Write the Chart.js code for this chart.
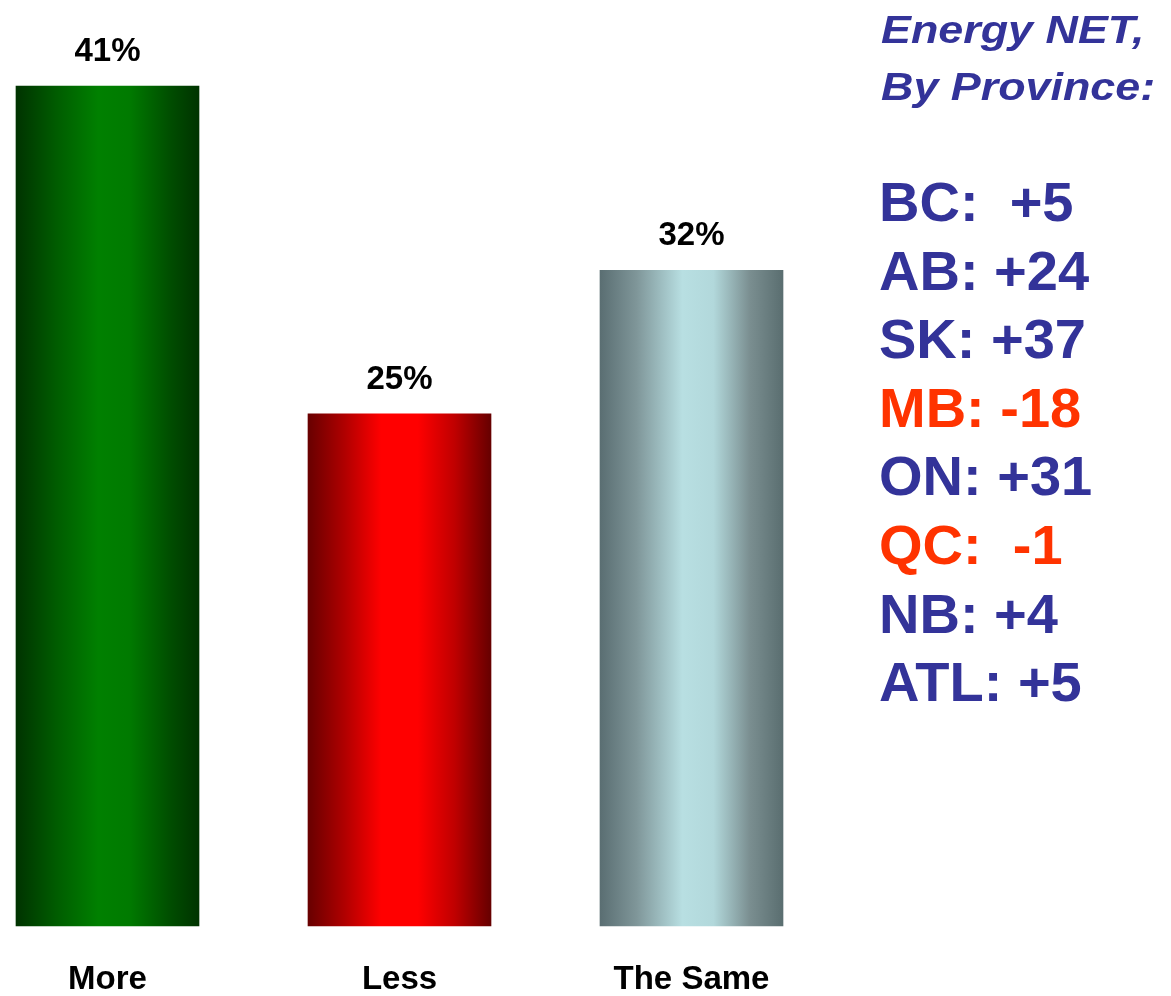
<!DOCTYPE html>
<html>
<head>
<meta charset="utf-8">
<script src="https://cdn.jsdelivr.net/npm/chart.js@4.4.0/dist/chart.umd.min.js"></script>
<style>
  html, body { margin: 0; padding: 0; background: #ffffff; }
  #wrap { position: relative; width: 1171px; height: 996px; }
</style>
</head>
<body>
<div id="wrap"><canvas id="c" width="1171" height="996"></canvas></div>
<script>
// ---- data ----
const categories = ["More", "Less", "The Same"];
const values = [41, 25, 32];
const headingLines = ["Energy NET,", "By Province:"];
const provinces = ["BC:", "AB:", "SK:", "MB:", "ON:", "QC:", "NB:", "ATL:"];
const provinceNet = ["  +5", " +24", " +37", " -18", " +31", "  -1", " +4", " +5"];

// ---- styles ----
const gradStops = [
  [["#003300", 0], ["#005c00", 0.22], ["#008000", 0.45], ["#007a00", 0.62], ["#004c00", 0.85], ["#003300", 1]],
  [["#680000", 0], ["#b00000", 0.2], ["#ff0000", 0.4], ["#ff0000", 0.6], ["#c00000", 0.8], ["#660000", 1]],
  [["#5a6e72", 0], ["#7f9699", 0.2], ["#b8dfe2", 0.45], ["#b2d8db", 0.62], ["#7a8e90", 0.82], ["#5a6e70", 1]]
];
const BAR_W = 183;
const FONT = "'Liberation Sans', Arial, Helvetica, sans-serif";
const BLUE = "#333399";
const RED = "#ff3300";

function barGradient(ctx) {
  const chart = ctx.chart;
  const i = ctx.dataIndex;
  if (!chart.chartArea || i === undefined) return gradStops[i || 0][2][0];
  const cx = chart.scales.x.getPixelForValue(i);
  const g = chart.ctx.createLinearGradient(cx - BAR_W / 2, 0, cx + BAR_W / 2, 0);
  gradStops[i].forEach(s => g.addColorStop(s[1], s[0]));
  return g;
}

const labelPlugin = {
  id: 'valueLabels',
  afterDatasetsDraw(chart) {
    const ctx = chart.ctx;
    const meta = chart.getDatasetMeta(0);
    ctx.save();
    ctx.fillStyle = "#000000";
    ctx.font = "bold 33px " + FONT;
    ctx.textAlign = "center";
    ctx.textBaseline = "alphabetic";
    meta.data.forEach((bar, i) => {
      ctx.fillText(values[i] + "%", bar.x, bar.y - 25);
    });
    ctx.restore();
  }
};

const sidePlugin = {
  id: 'sidePanel',
  afterDraw(chart) {
    const ctx = chart.ctx;
    ctx.save();
    ctx.textAlign = "left";
    ctx.textBaseline = "alphabetic";
    ctx.fillStyle = BLUE;
    ctx.font = "italic bold 39px " + FONT;
    headingLines.forEach((t, i) => {
      ctx.save();
      ctx.translate(881, 43 + i * 57);
      ctx.scale(1.15, 1);
      ctx.fillText(t, 0, 0);
      ctx.restore();
    });
    ctx.font = "bold 56px " + FONT;
    provinces.forEach((p, i) => {
      ctx.fillStyle = provinceNet[i].trim().startsWith("-") ? RED : BLUE;
      ctx.fillText(p + provinceNet[i], 879, 221 + i * 68.6);
    });
    ctx.restore();
  }
};

new Chart(document.getElementById('c'), {
  type: 'bar',
  data: {
    labels: categories,
    datasets: [{
      data: values,
      backgroundColor: barGradient,
      borderWidth: 0,
      barThickness: BAR_W,
      clip: false
    }]
  },
  options: {
    responsive: false,
    animation: false,
    events: [],
    layout: { padding: { top: 4, left: 107.5, right: 479.5, bottom: -37 } },
    plugins: { legend: { display: false }, tooltip: { enabled: false }, title: { display: false } },
    scales: {
      x: {
        type: 'category',
        offset: false,
        grid: { display: false, drawTicks: false, offset: false },
        border: { display: false },
        ticks: {
          autoSkip: false,
          maxRotation: 0,
          minRotation: 0,
          padding: 37,
          color: "#000000",
          font: { family: FONT, size: 33, weight: 'bold', lineHeight: 1.0 }
        }
      },
      y: {
        display: false,
        min: 0,
        max: 45
      }
    }
  },
  plugins: [labelPlugin, sidePlugin]
});
</script>
</body>
</html>
